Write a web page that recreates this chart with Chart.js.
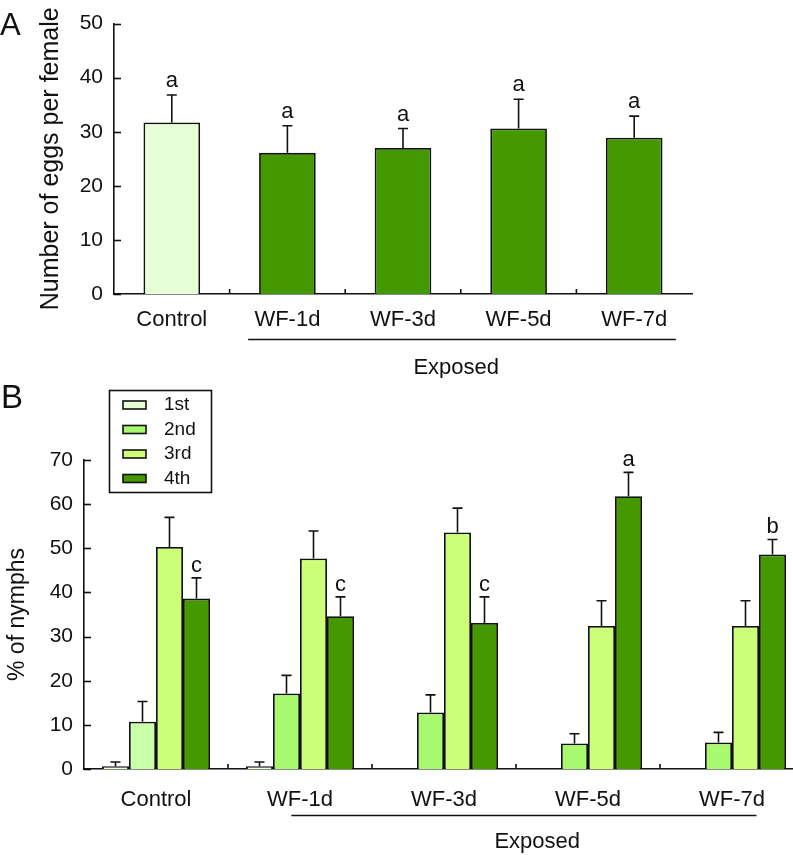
<!DOCTYPE html>
<html>
<head>
<meta charset="utf-8">
<script src="https://cdn.jsdelivr.net/npm/chart.js@4.4.1/dist/chart.umd.min.js"></script>
<style>
html, body { margin: 0; padding: 0; overflow: hidden; background: #fff; width: 793px; height: 855px; }
#wrapA { position: absolute; left: 0; top: 0; width: 793px; height: 378px; }
#wrapB { position: absolute; left: 0; top: 378px; width: 830px; height: 477px; }
</style>
</head>
<body>
<div id="wrapA"><canvas id="chartA" width="793" height="378"></canvas></div>
<div id="wrapB"><canvas id="chartB" width="830" height="477"></canvas></div>
<script>
const groups = ["Control", "WF-1d", "WF-3d", "WF-5d", "WF-7d"];

// panel A - eggs per female (bar value, top of error bar)
const eggs = [31.7, 26.1, 27.0, 30.6, 28.9];
const eggsErr = [36.8, 31.1, 30.6, 36.0, 32.9];
const eggsLetters = ["a", "a", "a", "a", "a"];
const ticksA = [0, 10, 20, 30, 40, 50];

// panel B - % of nymphs by instar
const instars = ["1st", "2nd", "3rd", "4th"];
const first = [0.6, 0.6, null, null, null];
const firstErr = [1.6, 1.6, null, null, null];
const second = [10.7, 17.1, 12.8, 5.8, 6.0];
const secondErr = [15.3, 21.2, 16.8, 8.0, 8.3];
const third = [50.3, 47.7, 53.6, 32.4, 32.4];
const thirdErr = [57.0, 53.9, 59.1, 38.1, 38.1];
const fourth = [38.6, 34.6, 33.1, 61.8, 48.6];
const fourthErr = [43.3, 39.0, 39.0, 67.2, 52.0];
const fourthLetters = ["c", "c", "c", "a", "b"];
const ticksB = [0, 10, 20, 30, 40, 50, 60, 70];

const INK = "#111";
const FONT = "'Liberation Sans', Arial, sans-serif";
Chart.defaults.font.family = FONT;
Chart.defaults.color = INK;

const C_PALE = "#e6ffd6", C_2ND = "#a8f870", C_2ND_CTRL = "#ccffaa", C_3RD = "#ccff77", C_DARK = "#449900";

function font(px){ return px + "px " + FONT; }

function axisDecor(chart, cfg){
    const ctx = chart.ctx, xs = chart.scales.x, ys = chart.scales.y, area = chart.chartArea;
    ctx.save();
    ctx.strokeStyle = INK; ctx.lineWidth = 1.6;
    // inward y ticks
    cfg.ticks.forEach(v => {
        const py = Math.round(ys.getPixelForValue(v)) + 0.5;
        ctx.beginPath(); ctx.moveTo(area.left, py); ctx.lineTo(area.left + 7, py); ctx.stroke();
    });
    // small upward separators between groups
    for (let i = 0; i < groups.length - 1; i++){
        const px = (xs.getPixelForValue(i) + xs.getPixelForValue(i + 1)) / 2;
        ctx.beginPath(); ctx.moveTo(px, area.bottom); ctx.lineTo(px, area.bottom - 5); ctx.stroke();
    }
    // "Exposed" bracket line under WF groups
    const w = xs.getPixelForValue(1) - xs.getPixelForValue(0);
    const x0 = xs.getPixelForValue(1) + cfg.lineFrom * w, x1 = xs.getPixelForValue(4) + cfg.lineTo * w;
    ctx.beginPath(); ctx.moveTo(x0, cfg.lineY); ctx.lineTo(x1, cfg.lineY); ctx.stroke();
    ctx.fillStyle = INK; ctx.font = font(22); ctx.textAlign = "left"; ctx.textBaseline = "alphabetic";
    ctx.fillText("Exposed", xs.getPixelForValue(2) + cfg.expOffset * w, cfg.expY);
    // panel letter
    ctx.font = font(cfg.letterSize);
    ctx.fillText(cfg.letter, cfg.letterX, cfg.letterY);
    ctx.restore();
}

function errorBars(chart, errs, letters, letterSize, gap){
    const ctx = chart.ctx, ys = chart.scales.y;
    ctx.save();
    ctx.strokeStyle = INK; ctx.lineWidth = 1.6; ctx.fillStyle = INK;
    ctx.font = font(letterSize); ctx.textAlign = "center"; ctx.textBaseline = "alphabetic";
    chart.data.datasets.forEach((ds, di) => {
        const e = errs[di];
        if (!e) return;
        chart.getDatasetMeta(di).data.forEach((bar, i) => {
            if (ds.data[i] == null || e[i] == null) return;
            const top = ys.getPixelForValue(e[i]);
            ctx.beginPath();
            ctx.moveTo(bar.x, bar.y); ctx.lineTo(bar.x, top);
            ctx.moveTo(bar.x - 5, top); ctx.lineTo(bar.x + 5, top);
            ctx.stroke();
            if (letters[di] && letters[di][i]) ctx.fillText(letters[di][i], bar.x, top - gap);
        });
    });
    ctx.restore();
}

function scales(ticks, yWidth, xHeight, title, titleSize, titlePad, labelPad){
    return {
        x: {
            grid: { display: false },
            border: { display: true, color: INK, width: 1.6 },
            ticks: { font: { size: 22 }, color: INK, padding: labelPad, maxRotation: 0 },
            afterFit: s => { s.height = xHeight; }
        },
        y: {
            min: ticks[0], max: ticks[ticks.length - 1],
            grid: { display: false, drawTicks: false },
            border: { display: true, color: INK, width: 1.6 },
            ticks: { font: { size: 21 }, color: INK, padding: 11 },
            afterBuildTicks: s => { s.ticks = ticks.map(v => ({ value: v })); },
            afterFit: s => { s.width = yWidth; },
            title: { display: true, text: title, font: { size: titleSize }, color: INK, padding: { top: titlePad, bottom: 0 } }
        }
    };
}

// ---------- panel A ----------
new Chart(document.getElementById("chartA").getContext("2d"), {
    type: "bar",
    data: {
        labels: groups,
        datasets: [{
            label: "Eggs",
            data: eggs,
            backgroundColor: [C_PALE, C_DARK, C_DARK, C_DARK, C_DARK],
            borderColor: INK, borderWidth: 1.8,
            categoryPercentage: 1, barPercentage: 0.49
        }]
    },
    options: {
        responsive: false, animation: false,
        devicePixelRatio: 1,
        layout: { padding: { top: 11, right: 101, left: 0, bottom: 0 } },
        plugins: { legend: { display: false }, tooltip: { enabled: false } },
        scales: scales(ticksA, 114, 84, "Number of eggs per female", 25, 36, 5)
    },
    plugins: [{
        id: "decorA",
        afterDatasetsDraw(chart){ errorBars(chart, [eggsErr], [eggsLetters], 22, 8); },
        afterDraw(chart){
            axisDecor(chart, { ticks: ticksA, lineFrom: -0.34, lineTo: 0.36, lineY: 339.5,
                expOffset: 0.09, expY: 374, letter: "A", letterSize: 31, letterX: 0, letterY: 35 });
        }
    }]
});

// ---------- panel B ----------
const seriesB = [first, second, third, fourth];
const colorsB = [C_PALE, [C_2ND_CTRL, C_2ND, C_2ND, C_2ND, C_2ND], C_3RD, C_DARK];
const legendColorsB = [C_PALE, C_2ND, C_3RD, C_DARK];

new Chart(document.getElementById("chartB").getContext("2d"), {
    type: "bar",
    data: {
        labels: groups,
        datasets: instars.map((name, k) => ({
            label: name,
            data: seriesB[k],
            backgroundColor: colorsB[k],
            borderColor: INK, borderWidth: 1.8,
            categoryPercentage: 0.75, barPercentage: 1
        }))
    },
    options: {
        responsive: false, animation: false,
        devicePixelRatio: 1,
        layout: { padding: { top: 82, right: 26, left: 0, bottom: 0 } },
        plugins: { legend: { display: false }, tooltip: { enabled: false } },
        scales: scales(ticksB, 84, 86, "% of nymphs", 23, 4, 10)
    },
    plugins: [{
        id: "decorB",
        afterDatasetsDraw(chart){
            errorBars(chart, [firstErr, secondErr, thirdErr, fourthErr], [null, null, null, fourthLetters], 22, 6);
        },
        afterDraw(chart){
            axisDecor(chart, { ticks: ticksB, lineFrom: -0.06, lineTo: 0.17, lineY: 437.5,
                expOffset: 0.35, expY: 470, letter: "B", letterSize: 33, letterX: 1, letterY: 30 });
            // boxed legend
            const ctx = chart.ctx;
            ctx.save();
            ctx.strokeStyle = INK; ctx.lineWidth = 1.6;
            ctx.strokeRect(109.5, 12.5, 102, 102);
            ctx.font = font(19); ctx.textBaseline = "middle"; ctx.textAlign = "left"; ctx.fillStyle = INK;
            instars.forEach((name, k) => {
                const cy = 27 + k * 24.5;
                ctx.fillStyle = legendColorsB[k];
                ctx.fillRect(123, cy - 4, 23, 8);
                ctx.strokeRect(123, cy - 4, 23, 8);
                ctx.fillStyle = INK;
                ctx.fillText(name, 164, cy);
            });
            ctx.restore();
        }
    }]
});
</script>
</body>
</html>
